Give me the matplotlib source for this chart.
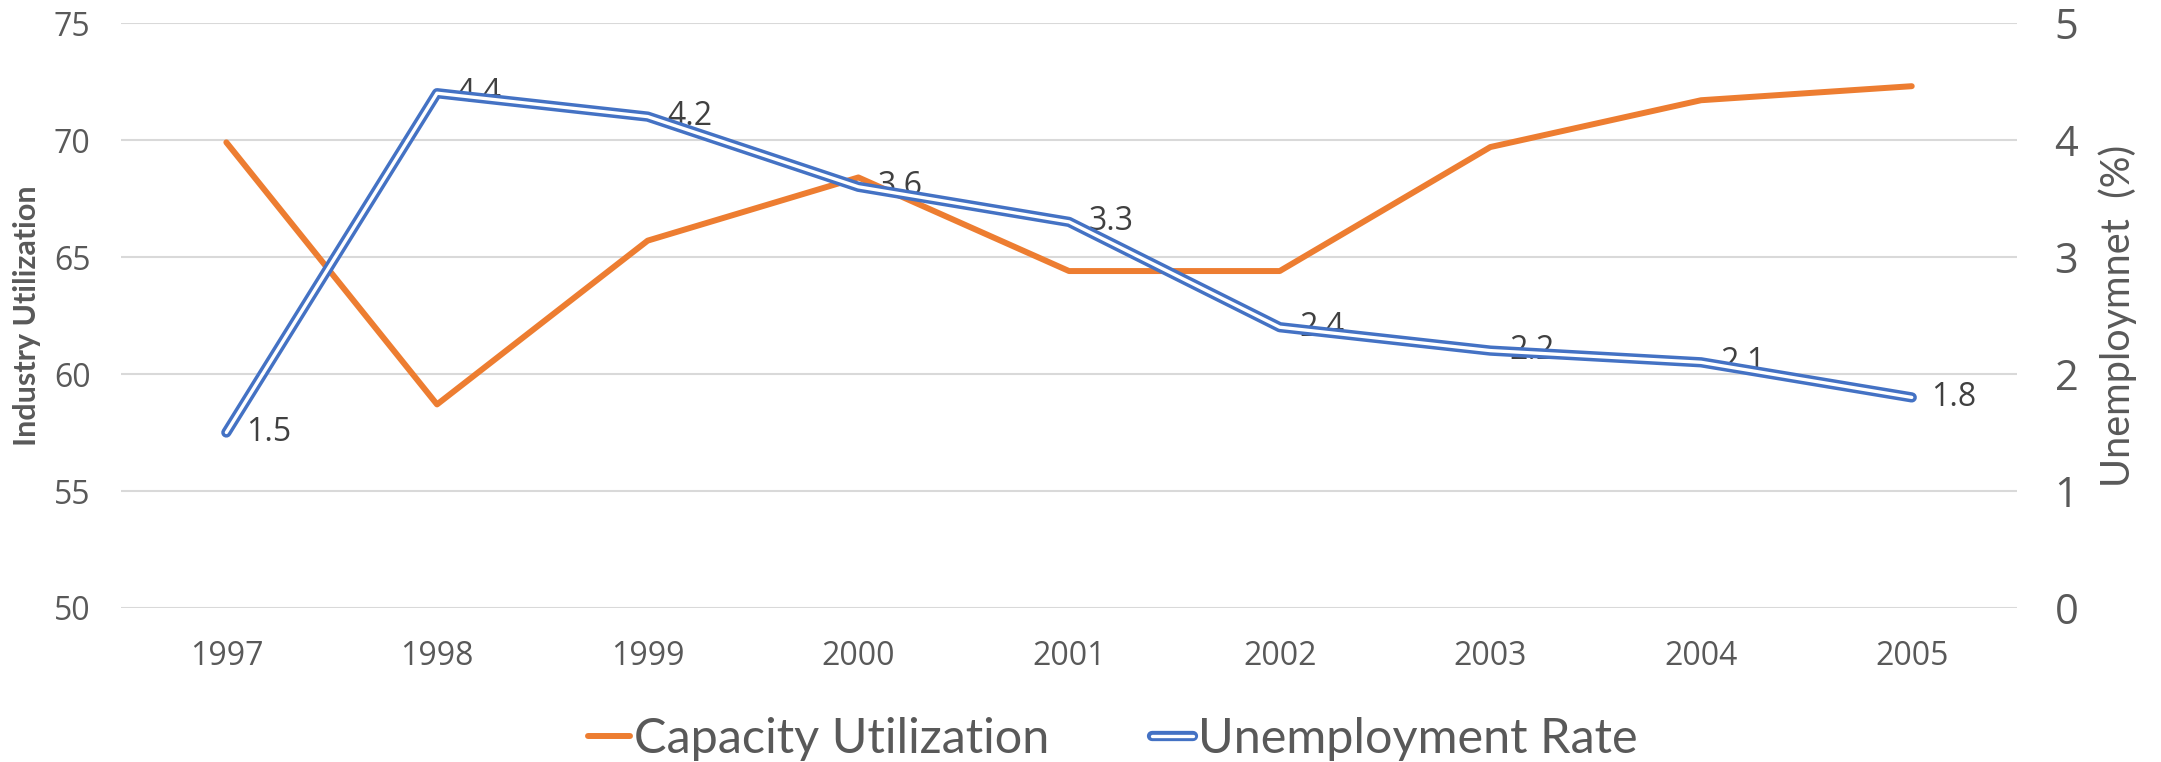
import matplotlib
matplotlib.use('Agg')
import matplotlib.pyplot as plt
import matplotlib.patheffects as pe

years = ['1997', '1998', '1999', '2000', '2001', '2002', '2003', '2004', '2005']
capacity = [69.9, 58.7, 65.7, 68.4, 64.4, 64.4, 69.7, 71.7, 72.3]
unemployment = [1.5, 4.4, 4.2, 3.6, 3.3, 2.4, 2.2, 2.1, 1.8]

orange = '#ED7D31'
blue = '#4472C4'
grey = '#595959'
narrow = ['Lato', 'DejaVu Sans']
plt.rcParams['font.family'] = ['Open Sans', 'DejaVu Sans']

fig = plt.figure(figsize=(21.61, 7.62), dpi=100)
ax = fig.add_axes([0.056, 0.2021, 0.8774, 0.7677])
ax2 = ax.twinx()

x = list(range(len(years)))
l1, = ax.plot(x, capacity, color=orange, lw=4.3, solid_capstyle='round',
              label='Capacity Utilization', zorder=3)
l2, = ax2.plot(x, unemployment, color='white', lw=2.4, solid_capstyle='round',
               label='Unemployment Rate', zorder=4,
               path_effects=[pe.Stroke(linewidth=7.4, foreground=blue,
                                       capstyle='round'), pe.Normal()])

for xi, v in zip(x, unemployment):
    ax2.annotate(f'{v}', (xi, v), xytext=(14, 0), textcoords='offset points',
                 ha='left', va='center', fontsize=23, color='#404040')

ax.set_xlim(-0.5, len(years) - 0.5)
ax.set_ylim(50, 75)
ax.set_yticks(range(50, 76, 5))
ax2.set_ylim(0, 5)
ax2.set_yticks(range(0, 6))
ax.set_xticks(x)
ax.set_xticklabels(years)

ax.grid(axis='y', color='#d9d9d9', lw=1.5)
ax.set_axisbelow(True)
for a in (ax, ax2):
    for s in a.spines.values():
        s.set_visible(False)
ax.tick_params(axis='both', length=0, labelcolor=grey)
ax.tick_params(axis='x', labelsize=23, pad=23)
ax.tick_params(axis='y', labelsize=23, pad=22)
ax2.tick_params(axis='y', length=0, labelcolor=grey, labelsize=30, pad=27)

ax.set_ylabel('Industry Utilization', fontsize=22, fontweight='bold', color=grey,
              family=narrow, labelpad=9)
ax2.set_ylabel('Unemploymnet  (%)', fontsize=28.5, color=grey, family=narrow,
               labelpad=14)

fig.legend(handles=[l1, l2], loc='center', bbox_to_anchor=(0.515, 0.03), ncol=2,
           frameon=False, prop={'family': narrow, 'size': 35}, labelcolor=grey,
           handlelength=0.85, handletextpad=0.1, columnspacing=2.1)

fig.savefig('out.png', dpi=100)
